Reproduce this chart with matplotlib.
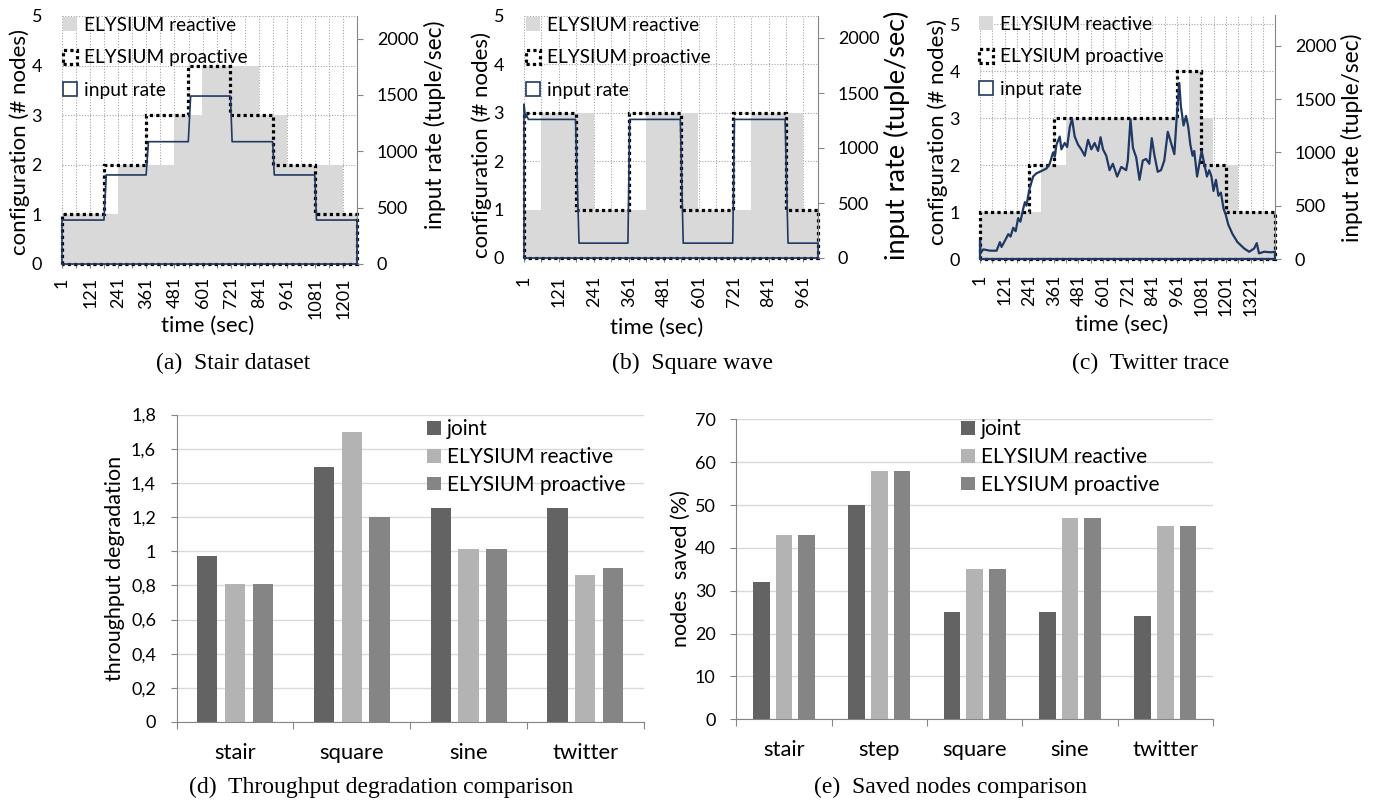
import numpy as np
import matplotlib
matplotlib.use('Agg')
import matplotlib.pyplot as plt
import matplotlib.transforms as mtransforms
from matplotlib.patches import Patch, Polygon
from matplotlib.ticker import FuncFormatter

plt.rcParams['font.family'] = ['Lato', 'DejaVu Sans']

# ---------------- (a) stair dataset ----------------
stair_rate_t = [1, 180, 190, 360, 370, 540, 550, 720, 727, 900, 907, 1080, 1087, 1260]
stair_rate = [390, 390, 790, 790, 1085, 1085, 1490, 1490, 1085, 1085, 790, 790, 390, 390]
stair_pro_bounds = [1, 180, 360, 540, 720, 900, 1080, 1260]
stair_pro = [1, 2, 3, 4, 3, 2, 1]
stair_react_bounds = [1, 240, 480, 600, 840, 960, 1200, 1260]
stair_react = [1, 2, 3, 4, 3, 2, 1]

# ---------------- (b) square wave ----------------
square_rate_t = [1, 6, 10, 16, 178, 190, 358, 364, 538, 548, 718, 724, 898, 908, 1011]
square_rate = [1400, 1275, 1300, 1260, 1260, 135, 135, 1260, 1260, 135, 135, 1260, 1260, 135, 135]
square_pro_bounds = [1, 180, 360, 540, 720, 900, 1011]
square_pro = [3, 1, 3, 1, 3, 1]
square_react_bounds = [1, 60, 240, 420, 600, 780, 960, 1011]
square_react = [1, 3, 1, 3, 1, 3, 1]

# ---------------- (c) twitter trace ----------------
tw_t = [1, 3, 17, 50, 82, 98, 106, 123, 139, 150, 163, 175, 187, 198, 212, 220,
        228, 236, 244, 260, 276, 293, 309, 325, 341, 357, 366, 374, 390, 398, 414,
        426, 439, 450, 463, 479, 495, 512, 528, 544, 560, 577, 589, 601, 617, 633,
        649, 670, 690, 714, 722, 735, 747, 763, 779, 795, 811, 827, 839, 851, 868,
        884, 900, 917, 933, 949, 957, 965, 973, 981, 994, 1006, 1017, 1027, 1038,
        1046, 1060, 1071, 1082, 1095, 1108, 1119, 1130, 1140, 1152, 1164, 1176,
        1189, 1200, 1212, 1233, 1257, 1290, 1314, 1338, 1351, 1362, 1387, 1419, 1440]
tw_rate = [173, 54, 90, 78, 78, 158, 113, 173, 233, 210, 293, 260, 383, 350, 473, 533,
           500, 593, 668, 773, 803, 818, 833, 848, 893, 998, 960, 1073, 1148, 1028, 1088,
           1050, 1238, 1313, 1148, 1073, 1028, 968, 1118, 1028, 1088, 1013, 1142, 1028, 968, 833,
           893, 773, 863, 833, 923, 1312, 1043, 953, 743, 923, 938, 893, 1133, 983, 818,
           833, 923, 1193, 1088, 983, 1223, 1450, 1650, 1431, 1252, 1342, 1237, 1073, 968,
           1013, 773, 893, 1013, 893, 773, 833, 773, 638, 743, 593, 623,
           473, 413, 323, 233, 158, 98, 68, 98, 149, 53, 68, 63, 68]
tw_pro_bounds = [1, 240, 360, 960, 1080, 1200, 1440]
tw_pro = [1, 2, 3, 4, 2, 1]
tw_react_bounds = [1, 300, 420, 1020, 1080, 1140, 1260, 1440]
tw_react = [1, 2, 3, 4, 3, 2, 1]

# ---------------- (d) throughput degradation ----------------
deg_cats = ['stair', 'square', 'sine', 'twitter']
deg_joint = [0.97, 1.49, 1.25, 1.25]
deg_reactive = [0.81, 1.70, 1.01, 0.86]
deg_proactive = [0.81, 1.20, 1.01, 0.90]

# ---------------- (e) saved nodes ----------------
saved_cats = ['stair', 'step', 'square', 'sine', 'twitter']
saved_joint = [32, 50, 25, 25, 24]
saved_reactive = [43, 58, 35, 47, 45]
saved_proactive = [43, 58, 35, 47, 45]

W, H = 1376, 801
fig = plt.figure(figsize=(W / 100, H / 100), dpi=100)
# pixel coordinates, origin top-left
PX = mtransforms.Affine2D().scale(1 / W, -1 / H).translate(0, 1) + fig.transFigure

NAVY = '#203864'
AREA = '#d9d9d9'
AXG = '#868686'
GRIDG = '#a6a6a6'
TICK_FS = 13
LEG_FS = 13.8
LAB_FS = 16
SERIF = ['Liberation Serif', 'DejaVu Serif']
CAP_FS = 17


def px_axes(l, t, r, b):
    return fig.add_axes([l / W, 1 - b / H, (r - l) / W, (b - t) / H])


def step_poly(bounds, levels):
    pts = [(bounds[0], 0)]
    for i, v in enumerate(levels):
        pts += [(bounds[i], v), (bounds[i + 1], v)]
    pts.append((bounds[-1], 0))
    return pts


def line_poly(t, v):
    return [(t[0], 0)] + list(zip(t, v)) + [(t[-1], 0)]


def timeline(box, t_end, cfg_top, react_b, react_v, pro_b, pro_v, rate_t, rate_v,
             rate_lw, xpad, xlab_xy, ylab_xy, y2lab_xy, y2fs, leg_xy, caption, cap_xy):
    ax = px_axes(*box)
    ax2 = ax.twinx()
    ax.set_xlim(1, t_end)
    ax.set_ylim(0, cfg_top)
    ax2.set_ylim(0, 2200 * cfg_top / 5 if cfg_top > 5 else 2200)

    rx, ry = zip(*step_poly(react_b, react_v))
    ax.fill(rx, ry, color=AREA, lw=0, zorder=1)
    ax.add_patch(Polygon(step_poly(pro_b, pro_v), closed=True, fill=False, ec='black',
                         ls=(0, (1, 1)), lw=2.3, clip_on=False, zorder=3))
    ax2.add_patch(Polygon(line_poly(rate_t, rate_v), closed=True, fill=False, ec=NAVY,
                          lw=rate_lw, clip_on=False, zorder=3, joinstyle='round'))

    ticks = list(range(1, t_end + 1, 60))
    ax.set_xticks(ticks)
    ax.set_xticklabels([str(t) if i % 2 == 0 else '' for i, t in enumerate(ticks)])
    ax.set_yticks(range(0, 6))
    ax.grid(True, color=GRIDG, ls=(0, (1, 1.5)), lw=0.8)
    ax.set_axisbelow(True)
    ax.tick_params(axis='x', length=3, color=AXG, rotation=90, labelsize=TICK_FS, pad=xpad)
    ax.tick_params(axis='y', length=0, labelsize=TICK_FS, pad=14.4)
    ax2.set_yticks(range(0, 2001, 500))
    ax2.tick_params(axis='y', length=4.3, color=AXG, labelsize=TICK_FS, pad=10)
    for s in ('top', 'left', 'right'):
        ax.spines[s].set_visible(False)
    ax.spines['bottom'].set_color(AXG)
    for s in ('top', 'left', 'bottom'):
        ax2.spines[s].set_visible(False)
    ax2.spines['right'].set_color(AXG)

    ax.set_xlabel('time (sec)', fontsize=LAB_FS)
    ax.xaxis.set_label_coords(*xlab_xy, transform=PX)
    ax.xaxis.label.set_va('center')
    ax.set_ylabel('configuration (# nodes)', fontsize=LAB_FS)
    ax.yaxis.set_label_coords(*ylab_xy, transform=PX)
    ax.yaxis.label.set_va('center')
    ax2.set_ylabel('input rate (tuple/sec)', fontsize=y2fs)
    ax2.yaxis.set_label_coords(*y2lab_xy, transform=PX)
    ax2.yaxis.label.set_va('center')

    handles = [Patch(fc=AREA, ec='none', label='ELYSIUM reactive'),
               Patch(fc='white', ec='black', ls=(0, (1, 1)), lw=2.3, label='ELYSIUM proactive'),
               Patch(fc='white', ec=NAVY, lw=1.2, label='input rate')]
    ax2.legend(handles=handles, loc='upper left', bbox_to_anchor=leg_xy, bbox_transform=PX,
               frameon=False, fontsize=LEG_FS, handlelength=0.73, handleheight=0.73,
               handletextpad=0.35, labelspacing=0.8, borderpad=0, borderaxespad=0)
    fig.text(*cap_xy, caption, transform=PX, ha='center', va='center',
             family=SERIF, fontsize=CAP_FS)


timeline((62, 16, 357, 264), 1260, 5, stair_react_bounds, stair_react,
         stair_pro_bounds, stair_pro, stair_rate_t, stair_rate, 1.2, 6.5,
         (208, 326), (20, 142), (435, 125), 16.3, (63, 17), '(a)  Stair dataset', (233, 363))
timeline((524, 16, 818, 258), 1011, 5, square_react_bounds, square_react,
         square_pro_bounds, square_pro, square_rate_t, square_rate, 1.2, 10,
         (657, 328), (482, 145), (897, 135), 19.5, (526, 17), '(b)  Square wave', (692, 363))
timeline((980, 15, 1275, 259), 1440, 5.2, tw_react_bounds, tw_react,
         tw_pro_bounds, tw_pro, tw_t, tw_rate, 1.6, 8,
         (1122, 325), (938, 132), (1352, 138), 16.3, (979, 16), '(c)  Twitter trace', (1151, 363))

BAR_COLORS = ['#636363', '#b3b3b3', '#858585']


def comma(v, _):
    return f'{v:g}'.replace('.', ',')


def bar_panel(box, cats, series, top, step, fmt, ylabel, ylab_xy, leg_xy, caption, cap_xy):
    ax = px_axes(*box)
    x = np.arange(len(cats))
    for k, (name, vals) in enumerate(series):
        ax.bar(x + (k - 1) * 0.238, vals, width=0.175, color=BAR_COLORS[k], label=name, zorder=2)
    ax.set_xlim(-0.5, len(cats) - 0.5)
    ax.set_ylim(0, top)
    ax.set_yticks(np.arange(0, top + step / 2, step))
    ax.yaxis.set_major_formatter(FuncFormatter(fmt))
    ax.set_xticks(np.arange(-0.5, len(cats), 1))
    ax.set_xticklabels([])
    ax.set_xticks(x, minor=True)
    ax.set_xticklabels(cats, minor=True)
    ax.tick_params(axis='x', which='major', length=5, color=AXG)
    ax.tick_params(axis='x', which='minor', length=0, labelsize=15.8, pad=15)
    ax.tick_params(axis='y', length=4.3, color=AXG, labelsize=TICK_FS, pad=10.6)
    ax.grid(True, axis='y', color='#d9d9d9', lw=1)
    ax.set_axisbelow(True)
    for s in ('top', 'right'):
        ax.spines[s].set_visible(False)
    for s in ('left', 'bottom'):
        ax.spines[s].set_color(AXG)
    ax.set_ylabel(ylabel, fontsize=15.5)
    ax.yaxis.set_label_coords(*ylab_xy, transform=PX)
    ax.yaxis.label.set_va('center')
    ax.legend(loc='upper left', bbox_to_anchor=leg_xy, bbox_transform=PX, frameon=False,
              fontsize=15, handlelength=0.65, handleheight=0.65, handletextpad=0.3,
              labelspacing=0.38, borderpad=0, borderaxespad=0)
    fig.text(*cap_xy, caption, transform=PX, ha='center', va='center',
             family=SERIF, fontsize=CAP_FS)


bar_panel((176.7, 414.5, 643.6, 722), deg_cats,
          [('joint', deg_joint), ('ELYSIUM reactive', deg_reactive),
           ('ELYSIUM proactive', deg_proactive)],
          1.8, 0.2, comma, 'throughput degradation', (115, 568), (427, 419),
          '(d)  Throughput degradation comparison', (381, 787))
bar_panel((736.4, 419.3, 1212.9, 719.3), saved_cats,
          [('joint', saved_joint), ('ELYSIUM reactive', saved_reactive),
           ('ELYSIUM proactive', saved_proactive)],
          70, 10, lambda v, _: f'{v:g}', 'nodes  saved (%)', (681, 569), (961, 419),
          '(e)  Saved nodes comparison', (950, 787))

fig.savefig('out.png', dpi=100)
